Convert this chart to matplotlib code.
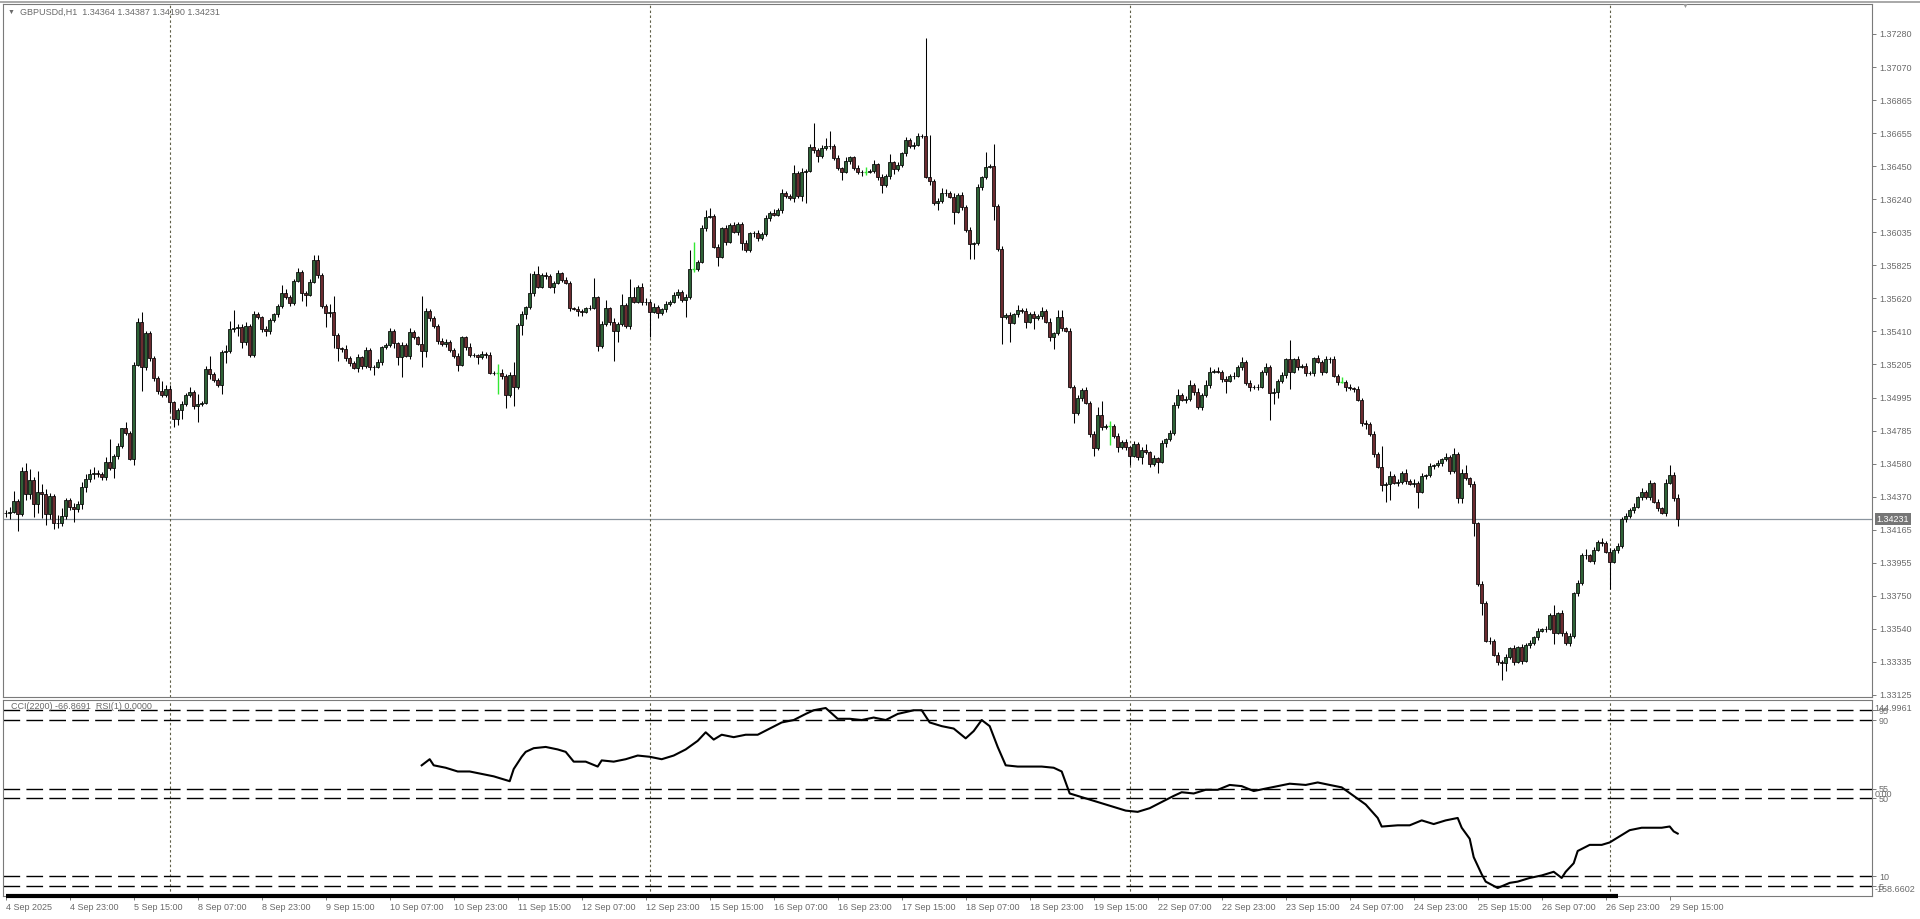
import matplotlib.pyplot as plt
from matplotlib.lines import Line2D
from matplotlib.transforms import blended_transform_factory

plt.rcParams['font.family'] = ['Liberation Sans', 'DejaVu Sans']

# GBPUSD H1, 4 Sep 07:00 .. 29 Sep 17:00, prices as pips above BASE
BASE = 1.33000
PIP = 0.0001

first_open = 126.6
closes = [
    126.9, 127.6, 134.5, 126.3, 153.5, 138.9, 147.7, 132.6, 140.1, 138.9,
    126.3, 137.6, 120.6, 120.9, 125.0, 135.1, 130.9, 129.4, 132.6, 143.3,
    148.3, 151.4, 152.1, 151.4, 149.6, 159.2, 155.2, 162.8, 169.0, 180.2,
    177.2, 160.9, 220.0, 247.2, 218.9, 240.1, 224.5, 211.8, 203.8, 201.1,
    205.1, 196.5, 186.0, 191.7, 195.4, 201.1, 203.0, 194.4, 195.4, 196.3,
    217.3, 214.3, 210.5, 207.4, 228.3, 228.6, 242.4, 243.2, 244.0, 234.4,
    244.7, 226.2, 252.0, 249.9, 242.6, 241.3, 248.2, 251.8, 257.0, 265.4,
    262.7, 258.9, 272.8, 278.6, 265.2, 264.0, 272.3, 286.0, 276.5, 257.0,
    252.8, 253.5, 238.8, 230.5, 230.3, 224.5, 221.4, 218.3, 224.8, 219.3,
    229.4, 218.5, 218.9, 221.8, 231.1, 232.5, 241.3, 233.6, 225.2, 232.5,
    225.8, 240.9, 237.4, 233.2, 228.9, 253.9, 249.7, 244.5, 234.9, 233.0,
    234.4, 229.4, 225.6, 220.0, 237.4, 231.5, 226.2, 226.0, 224.8, 226.9,
    226.2, 215.1, 214.7, 214.7, 213.0, 200.9, 213.7, 206.1, 245.1, 251.8,
    256.2, 265.0, 277.2, 269.2, 276.5, 276.1, 269.2, 271.7, 277.6, 273.4,
    271.7, 255.6, 255.3, 253.9, 253.5, 255.6, 255.9, 262.5, 231.9, 245.7,
    255.6, 247.2, 241.5, 245.7, 257.7, 244.5, 262.9, 259.8, 269.2, 259.4,
    259.8, 253.5, 256.6, 252.5, 255.0, 258.3, 259.8, 264.0, 266.0, 260.8,
    262.5, 280.1, 280.1, 284.9, 305.9, 313.2, 313.6, 294.3, 288.0, 305.9,
    297.5, 308.0, 303.8, 308.6, 296.5, 292.2, 302.7, 303.0, 299.6, 302.3,
    312.2, 315.7, 314.3, 317.4, 328.3, 326.2, 324.7, 340.8, 326.2, 341.5,
    342.1, 356.8, 355.1, 351.3, 356.2, 357.6, 357.9, 349.9, 343.6, 341.5,
    348.4, 350.5, 343.6, 341.0, 341.5, 341.5, 341.9, 346.1, 338.3, 333.1,
    338.8, 347.4, 343.0, 345.7, 353.0, 361.4, 357.6, 358.3, 363.9, 363.6,
    338.3, 335.8, 321.6, 323.0, 328.3, 328.0, 325.8, 316.3, 326.8, 319.5,
    304.8, 295.8, 296.5, 331.7, 337.9, 344.6, 345.1, 320.1, 292.7, 249.9,
    251.4, 246.5, 251.8, 254.5, 253.9, 247.2, 252.0, 249.3, 250.8, 254.1,
    247.2, 237.8, 239.9, 250.3, 243.0, 241.5, 206.3, 189.6, 199.0, 204.2,
    196.3, 176.4, 167.6, 188.5, 180.8, 181.6, 181.6, 175.3, 168.2, 171.7,
    168.2, 162.8, 170.3, 161.9, 166.5, 165.1, 157.5, 161.3, 159.2, 170.7,
    173.3, 177.0, 194.8, 201.1, 198.0, 198.4, 207.4, 203.2, 193.4, 201.1,
    207.4, 215.8, 216.4, 215.8, 211.0, 210.1, 213.0, 213.3, 218.9, 222.0,
    208.5, 206.3, 206.0, 206.3, 215.8, 218.9, 202.5, 203.2, 209.9, 213.7,
    223.5, 215.8, 223.5, 218.9, 219.3, 215.1, 214.8, 224.2, 222.0, 215.8,
    223.5, 223.8, 213.2, 209.5, 209.5, 205.9, 205.3, 205.0, 198.0, 183.3,
    182.9, 176.4, 164.0, 156.0, 144.5, 145.2, 150.2, 146.0, 146.3, 152.3,
    147.2, 145.2, 146.0, 140.3, 150.2, 150.5, 156.5, 156.8, 158.5, 160.7,
    162.3, 153.3, 164.0, 136.2, 152.3, 148.7, 145.2, 120.5, 82.3, 70.5,
    46.7, 46.4, 37.7, 33.5, 32.8, 36.2, 41.9, 33.5, 42.5, 34.1,
    44.0, 45.0, 48.8, 52.9, 53.8, 54.1, 62.8, 51.7, 63.9, 51.7,
    45.0, 49.6, 76.5, 82.7, 100.5, 100.2, 96.9, 103.7, 108.9, 108.3,
    102.6, 96.3, 103.7, 106.2, 123.2, 125.0, 128.8, 130.9, 136.8, 140.3,
    136.8, 145.6, 134.0, 129.9, 127.1, 146.0, 150.8, 136.4, 123.1,
]
# wick lengths above / below the body, pips
wick_up = [
    2, 3, 6, 1, 2, 5, 7, 2, 13, 5,
    3, 2, 1, 5, 5, 1, 1, 2, 2, 3,
    3, 3, 4, 2, 1, 3, 14, 1, 2, 0,
    4, 1, 2, 2, 6, 1, 1, 1, 1, 6,
    2, 2, 1, 1, 2, 1, 3, 1, 6, 1,
    2, 8, 1, 1, 1, 4, 5, 11, 2, 2,
    2, 1, 2, 1, 1, 2, 1, 1, 1, 5,
    2, 1, 1, 2, 1, 1, 2, 3, 3, 1,
    1, 5, 10, 1, 1, 2, 1, 1, 2, 1,
    2, 1, 1, 2, 1, 1, 2, 1, 1, 2,
    1, 2, 1, 1, 30, 2, 1, 1, 1, 2,
    2, 1, 1, 2, 1, 1, 2, 1, 1, 2,
    1, 2, 1, 6, 3, 1, 2, 8, 1, 2,
    1, 13, 2, 5, 1, 2, 1, 1, 2, 1,
    2, 1, 1, 2, 1, 1, 2, 12, 1, 2,
    5, 1, 2, 1, 7, 1, 11, 6, 1, 2,
    2, 1, 2, 1, 1, 2, 1, 2, 2, 1,
    2, 12, 17, 1, 2, 4, 5, 1, 2, 1,
    2, 1, 2, 1, 1, 2, 1, 1, 2, 1,
    2, 1, 2, 1, 2, 1, 1, 5, 1, 2,
    1, 2, 15, 1, 2, 5, 9, 1, 2, 1,
    2, 1, 1, 2, 1, 3, 1, 3, 1, 2,
    1, 5, 1, 2, 1, 2, 1, 2, 2, 1,
    61.7, 26, 1, 2, 3, 2, 1, 2, 1, 2,
    1, 2, 1, 2, 1, 9, 1, 14, 1, 2,
    1, 2, 1, 3, 1, 2, 1, 2, 1, 2,
    1, 2, 1, 4, 4, 1, 2, 1, 2, 1,
    2, 1, 2, 5, 9, 1, 3, 1, 2, 1,
    2, 1, 2, 1, 2, 4, 1, 2, 1, 2,
    1, 2, 2, 4, 1, 2, 3, 1, 2, 1,
    3, 3, 1, 2, 1, 2, 1, 2, 1, 3,
    1, 2, 1, 2, 1, 2, 1, 2, 1, 2,
    1, 12, 1, 2, 1, 2, 1, 1, 2, 1,
    2, 1, 2, 1, 3, 1, 2, 1, 2, 1,
    2, 1, 2, 1, 13, 1, 3, 1, 2, 1,
    2, 1, 2, 1, 2, 1, 2, 1, 2, 1,
    2, 1, 4, 1, 2, 5, 1, 2, 1, 2,
    1, 2, 1, 2, 1, 2, 1, 2, 1, 2,
    1, 2, 1, 2, 1, 2, 1, 6, 1, 2,
    1, 2, 1, 2, 1, 4, 1, 2, 1, 2,
    1, 2, 1, 2, 1, 2, 1, 2, 1, 2,
    1, 2, 1, 2, 1, 2, 6, 2, 2.3,
]
wick_dn = [
    2, 4, 1, 11, 1, 4, 3, 8, 6, 15,
    7, 3, 4, 3, 2, 2, 2, 8, 2, 3,
    3, 2, 3, 2, 2, 2, 1, 6, 2, 1,
    1, 1, 4, 1, 15, 2, 2, 2, 2, 1,
    1, 6, 5, 4, 6, 1, 1, 2, 10, 1,
    1, 3, 1, 1, 6, 7, 1, 2, 5, 4,
    2, 1, 1, 1, 2, 3, 2, 1, 2, 1,
    1, 2, 1, 1, 5, 7, 1, 1, 2, 1,
    9, 3, 8, 8, 2, 2, 2, 1, 3, 2,
    1, 2, 5, 1, 2, 1, 1, 3, 5, 13,
    1, 2, 1, 1, 10, 4, 2, 1, 2, 1,
    2, 1, 1, 4, 1, 2, 1, 1, 4, 1,
    2, 1, 1, 13, 2, 8, 1, 12, 1, 6,
    3, 1, 2, 1, 1, 2, 1, 4, 1, 1,
    1, 2, 1, 3, 3, 1, 1, 1, 3, 1,
    1, 2, 19, 7, 1, 1, 2, 1, 1, 2,
    2, 16, 1, 3, 1, 2, 1, 1, 2, 1,
    11, 1, 2, 1, 1, 2, 1, 1, 6, 1,
    2, 1, 1, 2, 4, 1, 1, 2, 2, 1,
    1, 2, 1, 1, 2, 1, 1, 2, 1, 3,
    20, 1, 2, 4, 1, 1, 2, 1, 1, 5,
    1, 2, 1, 1, 2, 2, 1, 1, 2, 5,
    1, 2, 3, 1, 1, 2, 1, 2, 1, 1,
    1, 3, 1, 4, 1, 2, 1, 8, 1, 2,
    1, 9, 9, 1, 2, 1, 1, 9, 1, 17,
    1, 12, 1, 2, 1, 4, 1, 7, 1, 2,
    1, 3, 8, 1, 2, 1, 1, 6, 1, 2,
    1, 2, 5, 1, 2, 1, 12, 1, 3, 1,
    2, 6, 1, 2, 4, 1, 2, 1, 7, 1,
    2, 1, 1, 2, 1, 2, 1, 2, 1, 2,
    1, 2, 1, 1, 2, 8, 1, 2, 1, 2,
    1, 3, 1, 2, 1, 2, 17, 7, 4, 1,
    2, 11, 1, 2, 1, 2, 1, 2, 1, 2,
    1, 2, 1, 2, 1, 2, 1, 2, 1, 2,
    3, 1, 2, 1, 4, 11, 10, 1, 2, 1,
    2, 1, 2, 10, 1, 2, 1, 2, 1, 2,
    1, 2, 1, 3, 3, 1, 2, 8, 1, 8,
    1, 2, 1, 2, 11, 5, 1, 2, 1, 2,
    1, 2, 1, 2, 1, 2, 1, 7, 1, 2,
    1, 2, 1, 2, 1, 2, 1, 2, 1, 2,
    1, 17, 1, 2, 1, 2, 1, 2, 1, 2,
    1, 2, 1, 2, 1, 2, 1, 2, 4.1,
]

# CCI(2200) (bar index, value)
cci_bars = [104, 106, 107, 110, 113, 116, 119, 122, 126, 127,
            129, 130, 132, 135, 138, 140, 142, 145, 148, 149,
            152, 155, 158, 161, 164, 167, 170, 173, 175, 177,
            179, 182, 185, 188, 191, 194, 197, 200, 202, 205,
            208, 211, 214, 217, 220, 223, 227, 229, 231, 234,
            237, 240, 242, 244, 246, 248, 250, 253, 256, 259,
            262, 264, 266, 268, 271, 274, 277, 280, 283, 286,
            289, 292, 294, 297, 300, 303, 306, 309, 312, 315,
            318, 321, 325, 328, 331, 334, 337, 340, 343, 344,
            348, 351, 354, 357, 360, 363, 364, 366, 367, 369,
            370, 373, 376, 378, 381, 384, 387, 389, 390, 392,
            393, 396, 399, 401, 403, 406, 409, 412, 414, 416,
            417, 418]
cci_vals = [48.3, 58.6, 48.3, 44.2, 37.9, 37.9, 33.8, 29.7, 21.5, 42.0,
            62.7, 71.0, 77.2, 79.3, 75.1, 71.0, 54.5, 54.5, 46.2, 56.6,
            54.5, 58.6, 64.8, 62.7, 58.6, 64.8, 75.1, 89.6, 104.0, 91.7,
            99.9, 95.8, 99.9, 99.9, 110.3, 120.6, 124.7, 135.0, 141.2, 144.99,
            126.8, 126.8, 124.7, 128.9, 124.7, 135.0, 141.2, 141.2, 120.6, 114.4,
            110.3, 93.8, 106.1, 124.7, 114.4, 79.3, 48.3, 46.2, 46.2, 46.2,
            44.2, 37.9, 0.8, -3.3, -9.5, -15.7, -21.9, -28.1, -30.2, -24.0,
            -13.6, -3.3, 2.9, 0.8, 7.0, 7.0, 15.2, 13.2, 4.9, 9.1,
            13.2, 17.3, 15.2, 19.4, 15.2, 11.1, -3.3, -17.8, -40.5, -55.0,
            -52.9, -52.9, -44.6, -50.8, -44.6, -40.5, -57.0, -75.6, -106.6, -135.5,
            -147.9, -158.66, -150.0, -147.9, -141.7, -137.5, -131.3, -141.7, -131.3, -116.9,
            -96.2, -85.9, -85.9, -81.8, -73.5, -61.1, -57.0, -57.0, -57.0, -54.9,
            -63.2, -66.87]
rsi_last_bar = 403
rsi_levels = [95, 90, 55, 50, 10, 5]

price_labels = ['1.37280', '1.37070', '1.36865', '1.36655', '1.36450', '1.36240',
                '1.36035', '1.35825', '1.35620', '1.35410', '1.35205', '1.34995',
                '1.34785', '1.34580', '1.34370', '1.34165', '1.33955', '1.33750',
                '1.33540', '1.33335', '1.33125']
time_labels = ['4 Sep 2025', '4 Sep 23:00', '5 Sep 15:00', '8 Sep 07:00', '8 Sep 23:00',
               '9 Sep 15:00', '10 Sep 07:00', '10 Sep 23:00', '11 Sep 15:00', '12 Sep 07:00',
               '12 Sep 23:00', '15 Sep 15:00', '16 Sep 07:00', '16 Sep 23:00', '17 Sep 15:00',
               '18 Sep 07:00', '18 Sep 23:00', '19 Sep 15:00', '22 Sep 07:00', '22 Sep 23:00',
               '23 Sep 15:00', '24 Sep 07:00', '24 Sep 23:00', '25 Sep 15:00', '26 Sep 07:00',
               '26 Sep 23:00', '29 Sep 15:00']
time_bars = list(range(0, 16 * len(time_labels), 16))
week_bars = [41, 161, 281, 401]

# ---- build OHLC
opens = [first_open] + closes[:-1]
O = [BASE + v * PIP for v in opens]
C = [BASE + v * PIP for v in closes]
H = [BASE + (max(o, c) + u) * PIP for o, c, u in zip(opens, closes, wick_up)]
L = [BASE + (min(o, c) - d) * PIP for o, c, d in zip(opens, closes, wick_dn)]
n = len(C)
xs = list(range(n))

W, Hpx = 1920, 919
fig = plt.figure(figsize=(W / 100, Hpx / 100), dpi=100)
fig.patch.set_facecolor('white')

def rect(x0, y0, x1, y1):
    return [x0 / W, (Hpx - y1) / Hpx, (x1 - x0) / W, (y1 - y0) / Hpx]

ax = fig.add_axes(rect(3, 4, 1872, 697))
ax2 = fig.add_axes(rect(3, 700, 1872, 896), sharex=ax)

grey = '#6a6a6a'
frame = '#7a7a7a'
for a in (ax, ax2):
    for s in a.spines.values():
        s.set_color(frame)
        s.set_linewidth(0.8)
    a.set_facecolor('white')

bull, bear, doji = '#2e6237', '#6b2b30', '#33e833'
wx, wl, wh = [], [], []
bx, bh, bb, bc = [], [], [], []
for i in xs:
    if abs(C[i] - O[i]) < 1e-9:
        ax.vlines(i, L[i], H[i], color=doji, lw=1.0, zorder=3)
        ax.hlines(C[i], i - 0.45, i + 0.45, color=doji, lw=1.0, zorder=3)
        continue
    wx.append(i); wl.append(L[i]); wh.append(H[i])
    bx.append(i)
    bb.append(min(O[i], C[i]))
    bh.append(abs(C[i] - O[i]))
    bc.append(bull if C[i] > O[i] else bear)
ax.vlines(wx, wl, wh, color='black', lw=0.75, zorder=2)
ax.bar(bx, bh, bottom=bb, width=0.72, color=bc, edgecolor='black',
       linewidth=0.55, zorder=3)

# current price line and tag
last = C[-1]
ax.axhline(last, color='#8a949e', lw=0.9, zorder=1)
trans = blended_transform_factory(ax.transAxes, ax.transData)
ax.text(1.0025, last, f'{last:.5f}', transform=trans, ha='left', va='center',
        fontsize=6.5, color='white', clip_on=False,
        bbox=dict(boxstyle='square,pad=0.18', fc='#767676', ec='none'))

# week separators
for a in (ax, ax2):
    for b in week_bars:
        a.axvline(b, color='#5f5f48', lw=0.8, ls=(0, (2.2, 2.2)), zorder=1)

ax.set_xlim((3 - 5.7) / 4, (1872 - 5.7) / 4)
ax.set_ylim(1.374937 - 6.286e-5 * 697, 1.374937 - 6.286e-5 * 4)
ax.yaxis.tick_right()
ax.set_yticks([float(s) for s in price_labels])
ax.set_yticklabels(price_labels)
ax.tick_params(axis='y', length=3, width=0.7, color=frame, pad=2,
               labelsize=6.5, labelcolor=grey)
ax.tick_params(axis='x', bottom=False, labelbottom=False)

o_, h_, l_, c_ = O[-1], H[-1], L[-1], C[-1]
fig.text(8 / W, 1 - 12 / Hpx, '\u25bc', fontsize=5, color=grey, va='center')
fig.text(20 / W, 1 - 12 / Hpx,
         f'GBPUSDd,H1  {o_:.5f} {h_:.5f} {l_:.5f} {c_:.5f}',
         fontsize=6.5, color=grey, va='center')
fig.text(1685 / W, 1 - 6 / Hpx, '\u25bc', fontsize=5, color='#9a9a9a',
         ha='center', va='center')
fig.add_artist(Line2D([0, 1], [1 - 1.5 / Hpx, 1 - 1.5 / Hpx], color='#9a9a9a', lw=1.2))

# ---- indicator window
ax2.set_ylim(0, 100.3)
for lv in rsi_levels:
    ax2.axhline(lv, color='black', lw=1.0, ls=(0, (12, 4.5)), zorder=2)
ax2.plot([0, rsi_last_bar], [0, 0], color='black', lw=3, clip_on=False, zorder=4,
         solid_capstyle='butt')

ax3 = ax2.twinx()
ax3.set_ylim(-158.6602 - 8 / 0.5928, 144.9961 + 8 / 0.5928)
ax3.plot(cci_bars, cci_vals, color='black', lw=1.5, zorder=5)
ax3.set_yticks([144.9961, 0.0, -158.6602])
ax3.set_yticklabels(['144.9961', '0.00', '-158.6602'])
ax3.tick_params(axis='y', length=0, pad=2, labelsize=6.5, labelcolor=grey)
for s in ax3.spines.values():
    s.set_visible(False)

# twinx moved the level ticks to the left; put them back on the right
ax2.yaxis.tick_right()
ax2.yaxis.set_label_position('right')
ax2.set_yticks(rsi_levels)
ax2.set_yticklabels([str(v) for v in rsi_levels])
ax2.tick_params(axis='y', which='both', left=False, labelleft=False,
                right=True, labelright=True, length=3, width=0.7, color=frame,
                pad=2, labelsize=6.5, labelcolor=grey)

ax2.set_xticks(time_bars)
ax2.set_xticklabels(time_labels)
for t in ax2.get_xticklabels():
    t.set_ha('left')
ax2.tick_params(axis='x', length=3, width=0.7, color=frame, pad=2,
                labelsize=6.5, labelcolor=grey)

ax2.text(8 / 1869, 0.965, 'CCI(2200) -66.8691  RSI(1) 0.0000', transform=ax2.transAxes,
         fontsize=6.5, color=grey, va='center', ha='left', zorder=6)

fig.savefig('out.png', dpi=100)
